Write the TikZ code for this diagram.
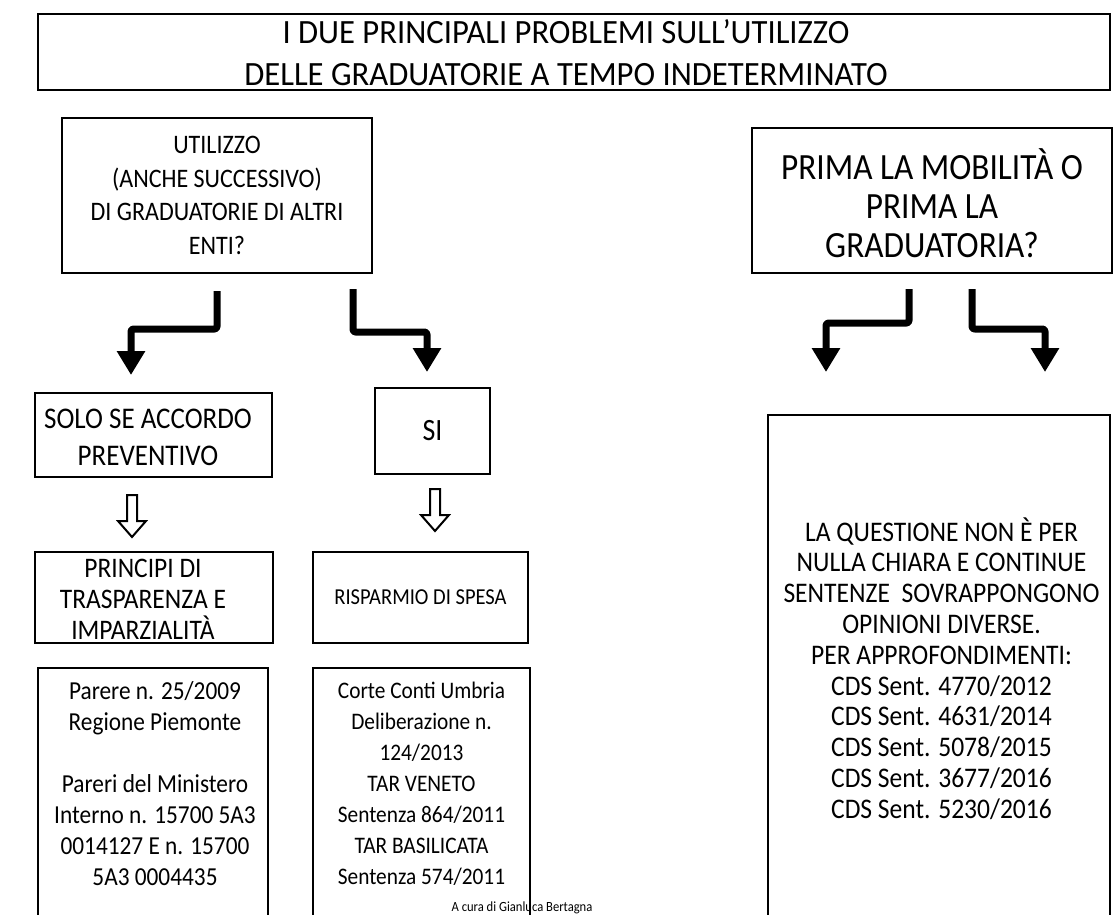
\documentclass[tikz,border=0pt]{standalone}
\usepackage{fontspec}
\usepackage{graphicx}
\setmainfont{Carlito}
\usetikzlibrary{arrows.meta,calc}
% font size / line distance
\newcommand\fs[2]{\fontsize{#1}{#2}\selectfont}
% centred lines, spaced by \baselineskip, set in a slightly narrowed face
\newcommand\sq[2][0.9]{\scalebox{#1}[1]{\vbox{\let\\\cr\halign{\hfil##\hfil\cr#2\crcr}}}}
\begin{document}
\begin{tikzpicture}[x=1pt,y=-1pt,
  box/.style={draw, line width=2.5pt, rectangle, inner sep=0pt},
  txt/.style={inner sep=0pt},
  bent/.style={line width=7pt, rounded corners=2.5pt, line join=round,
    -{Triangle[width=27pt,length=24pt]}},
  hollow/.pic={\draw[line width=2pt, line join=miter]
    (-5,0) -- (5,0) -- (5,26) -- (14,26) -- (0,42) -- (-14,26) -- (-5,26) -- cycle;}
]
\useasboundingbox (0,0) rectangle (1117,915);

% question and answer boxes
\node[box, minimum width=1072, minimum height=76] (title) at (574,52) {};
\node[box, minimum width=310, minimum height=155] (utilizzo) at (217,195.5) {};
\node[box, minimum width=360, minimum height=145] (prima) at (932,200.5) {};
\node[box, minimum width=237, minimum height=84] (solo) at (153.5,435) {};
\node[box, minimum width=115, minimum height=86] (si) at (432.5,431) {};
\node[box, minimum width=238, minimum height=91] (principi) at (154,597.5) {};
\node[box, minimum width=215, minimum height=91] (risparmio) at (420.5,597.5) {};
% tall boxes running past the lower edge
\node[box, minimum width=230, minimum height=262] (parere) at (153,799) {};
\node[box, minimum width=217, minimum height=262] (corte) at (421.5,799) {};
\node[box, minimum width=342, minimum height=515] (questione) at (939,672.5) {};

% box texts
\node[txt, font=\fs{34}{42}] (titletxt) at (566,53)
  {\sq[0.96]{I DUE PRINCIPALI PROBLEMI SULL’UTILIZZO\\DELLE GRADUATORIE A TEMPO INDETERMINATO}};
\node[txt, font=\fs{26.7}{33.5}] (utilizzotxt) at (utilizzo)
  {\sq{UTILIZZO\\(ANCHE SUCCESSIVO)\\DI GRADUATORIE DI ALTRI\\ENTI?}};
\node[txt, font=\fs{37}{39}] (primatxt) at (932,203)
  {\sq{PRIMA LA MOBILITÀ O\\PRIMA LA\\GRADUATORIA?}};
\node[txt, font=\fs{30}{37}] (solotxt) at (148,437)
  {\sq{SOLO SE ACCORDO\\PREVENTIVO}};
\node[txt, font=\fs{31}{37}] (sitxt) at (si) {\sq{SI}};
\node[txt, font=\fs{28.3}{31}] (principitxt) at (143,599)
  {\sq{PRINCIPI DI\\TRASPARENZA E\\IMPARZIALITÀ}};
\node[txt, font=\fs{22.8}{32}] (risparmiotxt) at (risparmio)
  {\sq{RISPARMIO DI SPESA}};
\node[txt, font=\fs{25.9}{31}] (pareretxt) at (155,783.5)
  {\sq{Parere n. 25/2009\\Regione Piemonte\\\noalign{\vskip31pt}Pareri del Ministero\\Interno n. 15700 5A3\\0014127 E n. 15700\\5A3 0004435}};
\node[txt, font=\fs{23.7}{31}] (cortetxt) at (421.5,783.5)
  {\sq{Corte Conti Umbria\\Deliberazione n.\\124/2013\\TAR VENETO\\Sentenza 864/2011\\TAR BASILICATA\\Sentenza 574/2011}};
\node[txt, font=\fs{28.4}{30.8}] (questionetxt) at (941.5,668.5)
  {\sq{LA QUESTIONE NON È PER\\NULLA CHIARA E CONTINUE\\SENTENZE~ SOVRAPPONGONO\\OPINIONI DIVERSE.\\PER APPROFONDIMENTI:\\CDS Sent. 4770/2012\\CDS Sent. 4631/2014\\CDS Sent. 5078/2015\\CDS Sent. 3677/2016\\CDS Sent. 5230/2016}};

\node[txt, font=\fs{14}{15}, anchor=base] (credit) at (522,911) {\scalebox{0.9}[1]{A cura di Gianluca Bertagna}};

% bent arrows below the two questions
\coordinate (a1) at (217,291);
\coordinate (a2) at (353,289);
\coordinate (a3) at (909,289);
\coordinate (a4) at (972,289);
\coordinate (t1) at (131,375);
\coordinate (t2) at (427,372);
\coordinate (t3) at (826,372);
\coordinate (t4) at (1045,372);
\draw[bent] (a1) |- (172,329) -| (t1);
\draw[bent] (a2) |- (390,332) -| (t2);
\draw[bent] (a3) |- (870,323) -| (t3);
\draw[bent] (a4) |- (1010,329) -| (t4);

% hollow arrows between the left boxes
\pic at (132,495) {hollow};
\pic at (435,489) {hollow};
\end{tikzpicture}
\end{document}
